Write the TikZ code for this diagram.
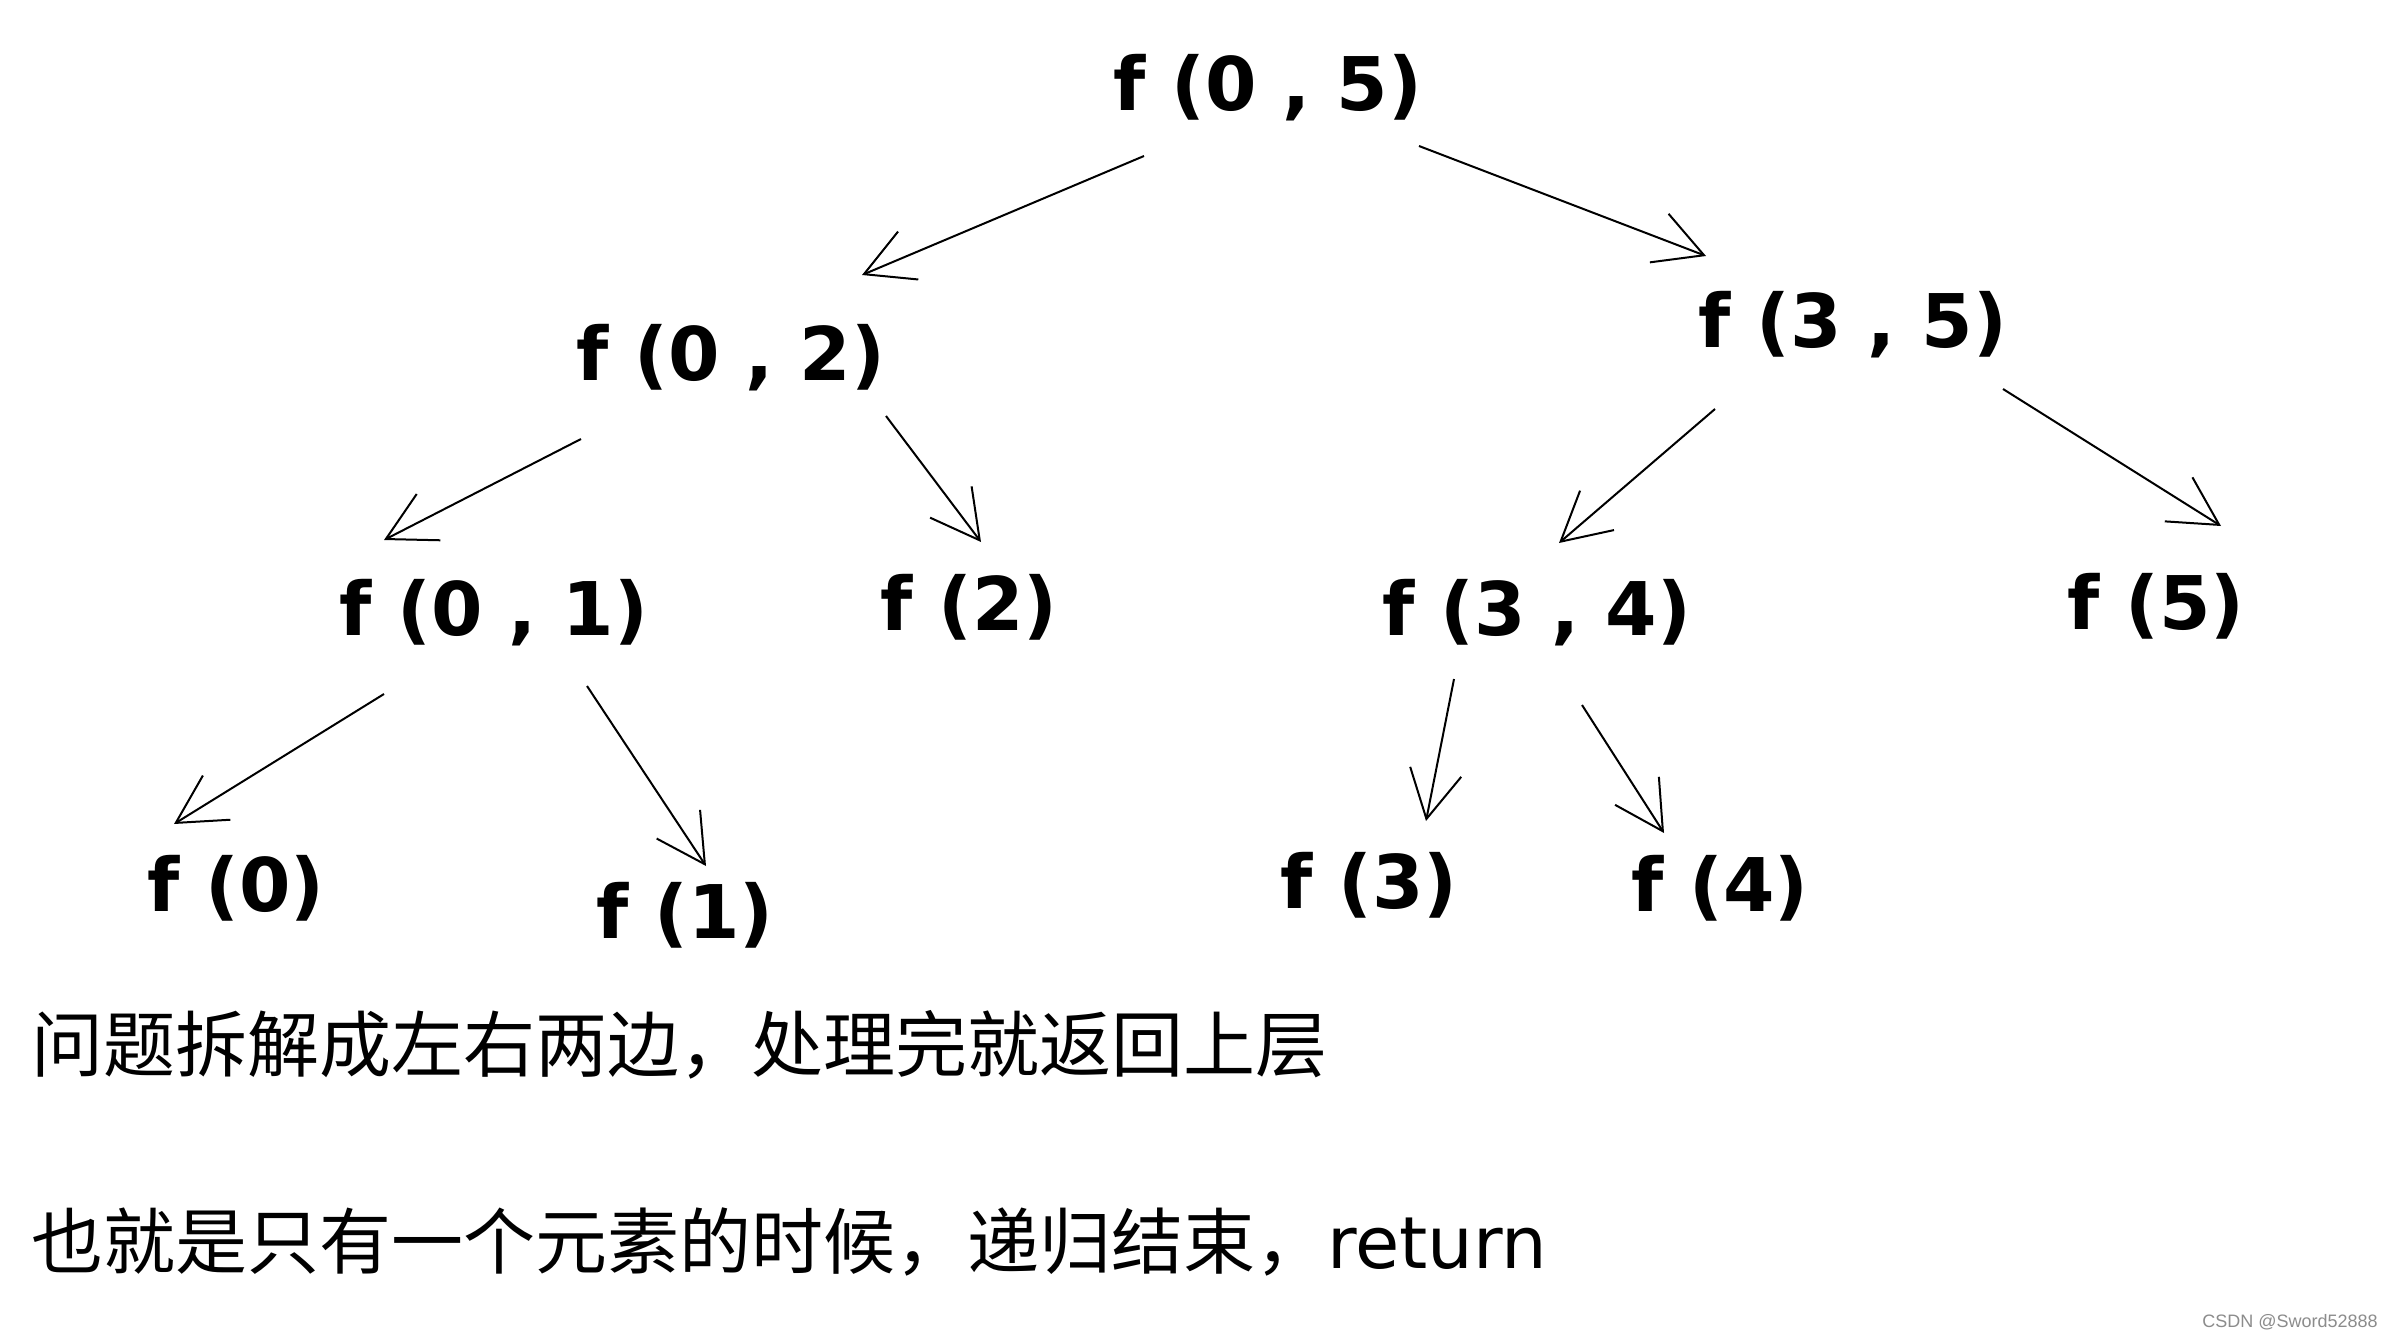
\documentclass[tikz,border=0pt]{standalone}
\usepackage{fontspec}
\setmainfont{DejaVu Sans}
\newfontfamily\cjkfont{Noto Sans CJK SC}
\newfontfamily\handfont{DejaVu Sans}
\newfontfamily\marksans{Liberation Sans}
\usetikzlibrary{arrows.meta}

\begin{document}
\begin{tikzpicture} [x = 0.5pt, y = -0.5pt,
  call/.style = {inner sep = 0pt, font = \handfont\bfseries\fontsize{37}{40}\selectfont},
  link/.style = {-{Straight Barb[length = 24pt, width = 26pt]}, line width = 1pt},
  note/.style = {anchor = west, inner sep = 0pt, font = \cjkfont\fontsize{36}{40}\selectfont}]

\useasboundingbox [fill = white] (0,0) rectangle (2392,1338);

\node (f05) [call] at (1268,88) {f (0 , 5)};
% left half
\node (f02) [call] at (731,358) {f (0 , 2)};
\node (f01) [call] at (494,613) {f (0 , 1)};
\node (f2)  [call] at (969,607) {f (2)};
\node (f0)  [call] at (236,888) {f (0)};
\node (f1)  [call] at (685,915) {f (1)};
% right half
\node (f35) [call] at (1853,325) {f (3 , 5)};
\node (f34) [call] at (1537,613) {f (3 , 4)};
\node (f5)  [call] at (2156,606) {f (5)};
\node (f3)  [call] at (1369,885) {f (3)};
\node (f4)  [call] at (1720,888) {f (4)};

\path [link]
  ([shift = {(-124,68)}]f05.center) edge ([shift = {(131,-83)}]f02.center);
\path [link]
  ([shift = {(151,58)}]f05.center) edge ([shift = {(-147,-69)}]f35.center);

\path [link]
  ([shift = {(-150,81)}]f02.center) edge ([shift = {(-110,-73)}]f01.center);
\path [link]
  ([shift = {(155,58)}]f02.center) edge ([shift = {(12,-65)}]f2.center);
\path [link]
  ([shift = {(-110,81)}]f01.center) edge ([shift = {(-62,-64)}]f0.center);
\path [link]
  ([shift = {(93,73)}]f01.center) edge ([shift = {(21,-49)}]f1.center);

\path [link]
  ([shift = {(-138,84)}]f35.center) edge ([shift = {(22,-70)}]f34.center);
\path [link]
  ([shift = {(150,64)}]f35.center) edge ([shift = {(65,-80)}]f5.center);
\path [link]
  ([shift = {(-83,66)}]f34.center) edge ([shift = {(57,-64)}]f3.center);
\path [link]
  ([shift = {(45,92)}]f34.center) edge ([shift = {(-56,-55)}]f4.center);

% notes
\node (split) [note] at (31,1045) {问题拆解成左右两边，处理完就返回上层};
\node (stop)  [note] at (31,1242) {也就是只有一个元素的时候，递归结束，{\handfont return}};

\node (mark) [anchor = east, inner sep = 0pt, text = black!45, font = \marksans\fontsize{9}{10}\selectfont] at (2378,1322) {CSDN @Sword52888};
\end{tikzpicture}
\end{document}
